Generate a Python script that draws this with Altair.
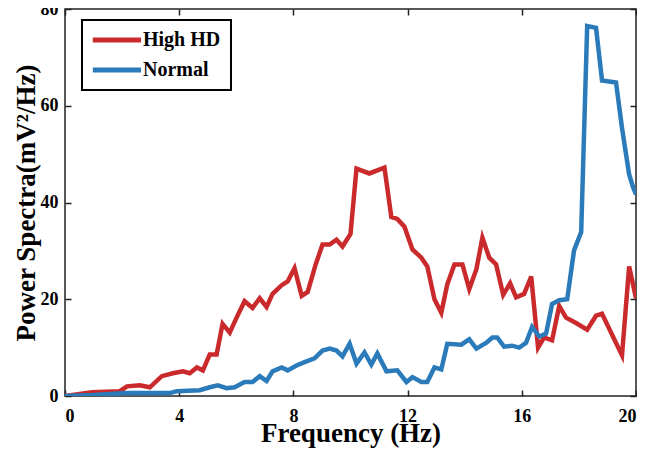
import altair as alt
import pandas as pd

# ---- data ----
high_freq = [0.00, 0.94, 1.92, 2.17, 2.62, 2.97, 3.39, 3.78, 4.13, 4.37, 4.62, 4.83, 5.07, 5.31,
             5.52, 5.77, 6.01, 6.29, 6.57, 6.82, 7.06, 7.27, 7.59, 7.80, 8.04, 8.29, 8.50, 8.78,
             9.02, 9.27, 9.51, 9.72, 10.00, 10.21, 10.66, 11.19, 11.43, 11.64, 11.89, 12.17,
             12.48, 12.69, 12.94, 13.18, 13.39, 13.64, 13.92, 14.16, 14.41, 14.62, 14.86, 15.10,
             15.35, 15.59, 15.80, 16.08, 16.33, 16.57, 16.78, 17.06, 17.31, 17.55, 17.90, 18.29,
             18.60, 18.81, 19.51, 19.76, 20.00]
high_power = [0.0, 0.8, 1.0, 2.0, 2.2, 1.8, 4.1, 4.7, 5.1, 4.7, 5.9, 5.3, 8.6, 8.6,
              14.9, 13.1, 16.2, 19.6, 18.2, 20.2, 18.4, 21.1, 22.9, 23.7, 26.4, 20.7, 21.5, 27.2,
              31.3, 31.3, 32.3, 30.9, 33.5, 47.0, 46.0, 47.2, 37.0, 36.6, 35.0, 30.3,
              28.6, 26.8, 20.0, 17.2, 23.1, 27.2, 27.2, 22.1, 26.2, 32.7, 28.6, 27.2,
              20.9, 23.3, 20.4, 21.1, 24.7, 10.0, 12.1, 11.5, 18.6, 16.2, 15.1, 13.7,
              16.6, 17.0, 8.4, 26.8, 20.2]

normal_freq = [0.00, 0.98, 2.17, 3.67, 3.92, 4.72, 5.07, 5.35, 5.66, 5.94, 6.29, 6.57, 6.82, 7.06,
               7.27, 7.59, 7.80, 8.11, 8.39, 8.74, 9.02, 9.27, 9.51, 9.72, 9.97, 10.21, 10.49,
               10.73, 10.94, 11.26, 11.64, 11.96, 12.17, 12.48, 12.69, 12.94, 13.18, 13.39,
               13.88, 14.16, 14.41, 14.76, 14.97, 15.14, 15.38, 15.66, 15.91, 16.15, 16.36,
               16.61, 16.85, 17.06, 17.31, 17.59, 17.83, 18.08, 18.29, 18.60, 18.81, 19.30,
               19.51, 19.76, 19.90, 20.00]
normal_power = [0.0, 0.2, 0.6, 0.6, 1.0, 1.2, 1.8, 2.2, 1.6, 1.8, 2.9, 2.9, 4.1, 3.1,
                5.1, 5.9, 5.3, 6.3, 7.0, 7.8, 9.4, 9.8, 9.4, 8.2, 10.8, 6.7, 9.0,
                6.5, 8.8, 5.1, 5.3, 2.9, 3.9, 2.9, 2.9, 5.9, 5.5, 10.8,
                10.6, 11.7, 9.8, 11.0, 12.1, 12.1, 10.2, 10.4, 10.0, 11.0, 14.3,
                12.3, 12.9, 19.0, 19.8, 20.0, 30.1, 33.9, 76.5, 76.1, 65.2, 64.8,
                55.4, 45.8, 43.1, 41.7]

series_names = ["High HD", "Normal"]
series_colors = ["#CB2A2D", "#2B7BBA"]
x_ticks = [0, 4, 8, 12, 16, 20]
y_ticks = [0, 20, 40, 60, 80]

df = pd.DataFrame({
    "freq": high_freq + normal_freq,
    "power": high_power + normal_power,
    "series": [series_names[0]] * len(high_freq) + [series_names[1]] * len(normal_freq),
})

FONT = "Liberation Serif"
xs = alt.Scale(domain=[0, 20], nice=False, zero=False)
ys = alt.Scale(domain=[0, 80], nice=False)

base = alt.Chart(df)

# long horizontal legend stroke drawn from a small nominal symbol size
LEGEND_PATH = "M-1.77,0H7.5"

lines = base.mark_line(strokeWidth=4.5, clip=True).encode(
    x=alt.X("freq:Q", scale=xs, axis=alt.Axis(
        orient="bottom", values=x_ticks, title="Frequency (Hz)", grid=False, domain=False,
        ticks=False, tickSize=0, labelPadding=11, labelFontSize=18, labelFont=FONT,
        labelFontWeight="bold", labelColor="black", titleFont=FONT, titleFontSize=27,
        titleFontWeight="bold", titleColor="black", titleBaseline="alphabetic", titleY=45)),
    y=alt.Y("power:Q", scale=ys, axis=alt.Axis(
        orient="left", values=y_ticks, title="Power Spectra(mV\u00b2/Hz)", grid=False,
        domain=False, ticks=False, tickSize=0, labelPadding=7, labelFontSize=18,
        labelFont=FONT, labelFontWeight="bold", labelColor="black", titleFont=FONT,
        titleFontSize=27, titleFontWeight="bold", titleColor="black",
        titleBaseline="alphabetic", titleX=-31)),
    color=alt.Color("series:N", scale=alt.Scale(domain=series_names, range=series_colors),
                    legend=alt.Legend(
                        title=None, orient="none", legendX=17, legendY=11, direction="vertical",
                        symbolType=LEGEND_PATH, symbolSize=108, symbolStrokeWidth=5,
                        labelFont=FONT, labelFontSize=20, labelFontWeight="bold",
                        labelColor="black", labelOffset=31, strokeColor="black",
                        fillColor="white", padding=10, rowPadding=10, cornerRadius=0)),
)

tick_style = dict(labels=False, domain=False, ticks=True, tickSize=6, offset=-6,
                  title=None, grid=False, tickColor="#222", tickWidth=1.5)

ticks_a = base.mark_line(opacity=0).encode(
    x=alt.X("freq:Q", scale=xs, axis=alt.Axis(orient="bottom", values=x_ticks, **tick_style)),
    y=alt.Y("power:Q", scale=ys, axis=alt.Axis(orient="left", values=y_ticks, **tick_style)),
    detail="series:N",
)
ticks_b = base.mark_line(opacity=0).encode(
    x=alt.X("freq:Q", scale=xs, axis=alt.Axis(orient="top", values=x_ticks, **tick_style)),
    y=alt.Y("power:Q", scale=ys, axis=alt.Axis(orient="right", values=y_ticks, **tick_style)),
    detail="series:N",
)

chart = alt.layer(lines, ticks_a, ticks_b).resolve_axis(
    x="independent", y="independent"
).properties(
    width=571, height=387,
    autosize=alt.AutoSizeParams(type="none"),
    padding={"left": 57, "top": 1, "right": 1, "bottom": 52},
).configure_view(
    stroke="#222", strokeWidth=1.5
).configure_legend(
    strokeWidth=2
)

chart.save("out.html", embed_options={"renderer": "svg", "actions": False})
